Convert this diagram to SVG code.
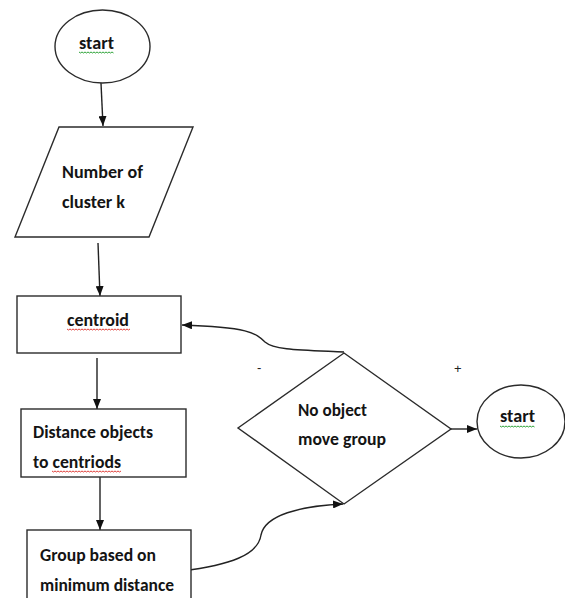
<svg xmlns="http://www.w3.org/2000/svg" width="565" height="598" viewBox="0 0 565 598">
<style>
.shape{fill:#fff;stroke:#2b2b2b;stroke-width:1.4}
.conn{fill:none;stroke:#222;stroke-width:1.4}
.lbl{font-family:Carlito,Lato,"Liberation Sans",sans-serif;font-weight:bold;font-size:18.5px;fill:#141414}
.sign{font-family:"Liberation Sans",Arial,sans-serif;font-size:13px;fill:#222}
.sqg{fill:none;stroke:#2fa33a;stroke-width:1}
.sqr{fill:none;stroke:#e0403a;stroke-width:1}
</style>
<defs>
<marker id="ah" viewBox="0 0 10 8" refX="10" refY="4" markerWidth="10" markerHeight="8" markerUnits="userSpaceOnUse" orient="auto">
<path d="M0,0 L10,4 L0,8 Z" fill="#111"/>
</marker>
</defs>
<rect width="565" height="598" fill="#fff"/>
<g id="connectors">
<path class="conn" d="M101,83 L103,126" marker-end="url(#ah)"/>
<path class="conn" d="M98,243 L100,296" marker-end="url(#ah)"/>
<path class="conn" d="M97,358 L97,409" marker-end="url(#ah)"/>
<path class="conn" d="M100,477 L100,530" marker-end="url(#ah)"/>
<path class="conn" d="M451,429 L477,429" marker-end="url(#ah)"/>
<path class="conn" d="M344,352 C300,350 274,350 265,342 C256,333 248,327 182,325" marker-end="url(#ah)"/>
<path class="conn" d="M182,571 C230,565 258,555 261,535 C265,515 300,506 343,504" marker-end="url(#ah)"/>
</g>
<g id="start1">
<ellipse class="shape" cx="102.5" cy="46.5" rx="47.5" ry="36.5"/>
<text class="lbl" x="79" y="49" textLength="35" lengthAdjust="spacingAndGlyphs">start</text>
<path class="sqg" d="M79,52 l1.5,1 l1.5,-1 l1.5,1 l1.5,-1 l1.5,1 l1.5,-1 l1.5,1 l1.5,-1 l1.5,1 l1.5,-1 l1.5,1 l1.5,-1 l1.5,1 l1.5,-1 l1.5,1 l1.5,-1 l1.5,1 l1.5,-1 l1.5,1 l1.5,-1 l1.5,1 l1.5,-1 l1.5,1"/>
</g>
<g id="input">
<polygon class="shape" points="59,127 193,127 149,237 15,237"/>
<text class="lbl" x="62" y="178" textLength="81" lengthAdjust="spacingAndGlyphs">Number of</text>
<text class="lbl" x="62" y="208" textLength="63" lengthAdjust="spacingAndGlyphs">cluster k</text>
</g>
<g id="centroid">
<rect class="shape" x="17" y="296" width="164" height="57"/>
<text class="lbl" x="67" y="326" textLength="62" lengthAdjust="spacingAndGlyphs">centroid</text>
<path class="sqr" d="M67,329 l1.5,1 l1.5,-1 l1.5,1 l1.5,-1 l1.5,1 l1.5,-1 l1.5,1 l1.5,-1 l1.5,1 l1.5,-1 l1.5,1 l1.5,-1 l1.5,1 l1.5,-1 l1.5,1 l1.5,-1 l1.5,1 l1.5,-1 l1.5,1 l1.5,-1 l1.5,1 l1.5,-1 l1.5,1 l1.5,-1 l1.5,1 l1.5,-1 l1.5,1 l1.5,-1 l1.5,1 l1.5,-1 l1.5,1 l1.5,-1 l1.5,1 l1.5,-1 l1.5,1 l1.5,-1 l1.5,1 l1.5,-1 l1.5,1 l1.5,-1 l1.5,1 l1.5,-1"/>
</g>
<g id="distance">
<rect class="shape" x="21" y="409" width="165" height="68"/>
<text class="lbl" x="33" y="438" textLength="120" lengthAdjust="spacingAndGlyphs">Distance objects</text>
<text class="lbl" x="33" y="468" textLength="88" lengthAdjust="spacingAndGlyphs">to centriods</text>
<path class="sqr" d="M52,471 l1.5,1 l1.5,-1 l1.5,1 l1.5,-1 l1.5,1 l1.5,-1 l1.5,1 l1.5,-1 l1.5,1 l1.5,-1 l1.5,1 l1.5,-1 l1.5,1 l1.5,-1 l1.5,1 l1.5,-1 l1.5,1 l1.5,-1 l1.5,1 l1.5,-1 l1.5,1 l1.5,-1 l1.5,1 l1.5,-1 l1.5,1 l1.5,-1 l1.5,1 l1.5,-1 l1.5,1 l1.5,-1 l1.5,1 l1.5,-1 l1.5,1 l1.5,-1 l1.5,1 l1.5,-1 l1.5,1 l1.5,-1 l1.5,1 l1.5,-1 l1.5,1 l1.5,-1 l1.5,1 l1.5,-1 l1.5,1 l1.5,-1"/>
</g>
<g id="group">
<rect class="shape" x="27" y="530" width="164" height="80"/>
<text class="lbl" x="40" y="561" textLength="116" lengthAdjust="spacingAndGlyphs">Group based on</text>
<text class="lbl" x="40" y="591" textLength="134" lengthAdjust="spacingAndGlyphs">minimum distance</text>
</g>
<g id="decision">
<polygon class="shape" points="344,353 451,429 344,504 238,428"/>
<text class="lbl" x="298" y="416" textLength="69" lengthAdjust="spacingAndGlyphs">No object</text>
<text class="lbl" x="298" y="445" textLength="88" lengthAdjust="spacingAndGlyphs">move group</text>
</g>
<g id="signs">
<text class="sign" x="257" y="372">-</text>
<text class="sign" x="454" y="373">+</text>
</g>
<g id="start2">
<ellipse class="shape" cx="521" cy="421.5" rx="44" ry="36.5"/>
<text class="lbl" x="500" y="422" textLength="35" lengthAdjust="spacingAndGlyphs">start</text>
<path class="sqg" d="M500,426 l1.5,1 l1.5,-1 l1.5,1 l1.5,-1 l1.5,1 l1.5,-1 l1.5,1 l1.5,-1 l1.5,1 l1.5,-1 l1.5,1 l1.5,-1 l1.5,1 l1.5,-1 l1.5,1 l1.5,-1 l1.5,1 l1.5,-1 l1.5,1 l1.5,-1 l1.5,1 l1.5,-1 l1.5,1"/>
</g>
</svg>
